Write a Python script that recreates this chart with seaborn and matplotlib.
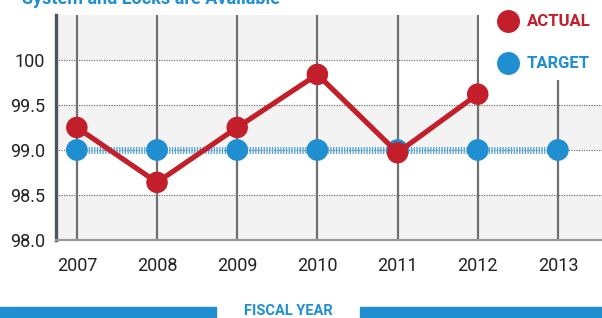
import matplotlib
matplotlib.use("Agg")
import matplotlib.pyplot as plt
import seaborn as sns
import pandas as pd
from matplotlib.patches import Rectangle

years = [2007, 2008, 2009, 2010, 2011, 2012, 2013]
actual_years = [2007, 2008, 2009, 2010, 2011, 2012]
actual = [99.25, 98.64, 99.25, 99.84, 98.97, 99.62]
target = [99.0, 99.0, 99.0, 99.0, 99.0, 99.0, 99.0]
y_ticks = [98.0, 98.5, 99.0, 99.5, 100.0]
y_tick_labels = ["98.0", "98.5", "99.0", "99.5", "100"]

RED = "#c21f2b"
BLUE = "#1f8fd1"
LBLUE = "#4aa3dc"

sns.set_theme(style="white")
plt.rcParams['font.family'] = ['Roboto', 'DejaVu Sans']

df_a = pd.DataFrame({"year": actual_years, "value": actual})
df_t = pd.DataFrame({"year": years, "value": target})

fig = plt.figure(figsize=(6.02, 3.18), dpi=100)
ax = fig.add_axes([56/602, 78/318, 546/602, 225/318])
ax.set_xlim(2006.74, 2013.55)
ax.set_ylim(98.0, 100.5)
ax.set_facecolor("white")

# alternating bands
for lo, hi in [(98.0, 98.5), (99.0, 99.5), (100.0, 100.5)]:
    ax.axhspan(lo, hi, color="#f3f3f3", zorder=0, lw=0)

# grid
for yv in [98.5, 99.0, 99.5, 100.0]:
    ax.axhline(yv, color="#777777", lw=0.9, ls=(0, (1, 1)), zorder=1)
for x in years:
    top = 1.0 if x != 2013 else (318 - 80 - 78) / 225
    ax.axvline(x, ymin=0, ymax=top, color="#6e7073", lw=1.6, zorder=1)

# target line
sns.lineplot(data=df_t, x="year", y="value", ax=ax, color=LBLUE, lw=5,
             zorder=2, estimator=None)
ax.lines[-1].set_linestyle((0, (0.18, 0.22)))
sns.scatterplot(data=df_t, x="year", y="value", ax=ax, color=BLUE, s=245,
                edgecolor="none", zorder=3, legend=False)

# actual
sns.lineplot(data=df_a, x="year", y="value", ax=ax, color=RED, lw=3.7,
             zorder=4, estimator=None)
sns.scatterplot(data=df_a, x="year", y="value", ax=ax, color=RED, s=240,
                edgecolor="none", zorder=5, legend=False)

ax.set_xticks(years)
ax.set_xticklabels([str(y) for y in years], fontsize=13, color="#222222")
ax.set_yticks(y_ticks)
ax.set_yticklabels(y_tick_labels, fontsize=13, color="#222222")
ax.tick_params(axis="x", length=0, pad=12)
ax.tick_params(axis="y", length=0, pad=8)
ax.set_xlabel("")
ax.set_ylabel("")
for s in ["top", "right"]:
    ax.spines[s].set_visible(False)
ax.spines["left"].set_color("#4f535a")
ax.spines["left"].set_linewidth(2.4)
ax.spines["bottom"].set_color("#9a9a9a")
ax.spines["bottom"].set_linewidth(1.6)

# white area behind legend (figure-level, drawn over the axes)
fig.patches.append(Rectangle((479/602, 1 - 80/318), 123/602, 80/318,
                             facecolor="white", edgecolor="none",
                             transform=fig.transFigure, figure=fig, zorder=1))

# legend
fig.add_artist(plt.Line2D([508/602], [1 - 21/318], marker="o", color=RED,
                          markersize=15.5, transform=fig.transFigure, lw=0,
                          zorder=2))
fig.text(527/602, 1 - 21/318, "ACTUAL", color=RED, fontsize=12,
         fontweight="bold", va="center", ha="left", zorder=3)
fig.add_artist(plt.Line2D([508/602], [1 - 63/318], marker="o", color=BLUE,
                          markersize=15.5, transform=fig.transFigure, lw=0,
                          zorder=2))
fig.text(527/602, 1 - 63/318, "TARGET", color=BLUE, fontsize=12,
         fontweight="bold", va="center", ha="left", zorder=3)

# cut title
fig.text(22/602, 1 - 4/318, "System and Locks are Available", color=BLUE,
         fontsize=13, fontweight="bold", va="baseline", ha="left")

# bottom bar
fig.patches.append(Rectangle((0, 0), 216/602, 11/318, color=BLUE,
                             transform=fig.transFigure, figure=fig))
fig.patches.append(Rectangle((360/602, 0), 242/602, 11/318, color=BLUE,
                             transform=fig.transFigure, figure=fig))
fig.text(288/602, 7/318, "FISCAL YEAR", color=BLUE, fontsize=10.5,
         fontweight="bold", va="center", ha="center")

fig.savefig("out.png", dpi=100)
